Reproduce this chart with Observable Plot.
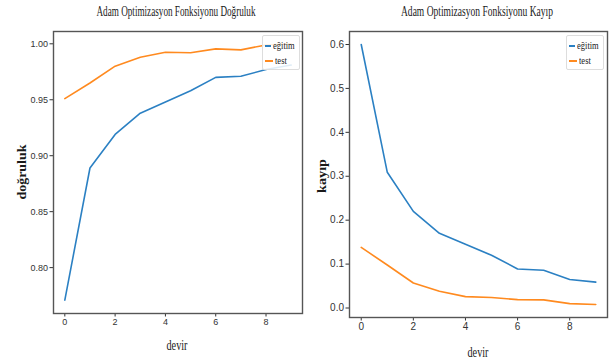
<!DOCTYPE html>
<html><head><meta charset="utf-8">
<script src="https://cdn.jsdelivr.net/npm/d3@7"></script>
<script src="https://cdn.jsdelivr.net/npm/@observablehq/plot@0.6"></script>
<style>
html,body{margin:0;padding:0;background:#fff;}
#root{position:relative;width:614px;height:363px;background:#fff;overflow:hidden;}
.t{position:absolute;white-space:nowrap;line-height:1;color:#1a1a1a;}
.leg{position:absolute;background:rgba(255,255,255,0.85);border:1px solid #ddd;border-radius:2px;box-sizing:border-box;font-family:"Liberation Serif",serif;font-size:10px;color:#222;}
.row{display:flex;align-items:center;height:15px;}
.sw{display:inline-block;width:8px;height:0;border-top:2px solid;margin:0 2px 0 2px;}
.lab{display:inline-block;transform:scaleX(0.85);transform-origin:left center;}
</style>
</head><body>
<div id="root"></div>
<script>
// ---- data ----
const epochs = [0, 1, 2, 3, 4, 5, 6, 7, 8, 9];
const seriesNames = ["eğitim", "test"];
const accTrain = [0.771, 0.889, 0.919, 0.938, 0.948, 0.958, 0.970, 0.971, 0.977, 0.981];
const accTest  = [0.951, 0.965, 0.980, 0.988, 0.9925, 0.992, 0.9955, 0.9946, 0.999, 1.000];
const lossTrain = [0.600, 0.309, 0.220, 0.170, 0.145, 0.120, 0.089, 0.086, 0.065, 0.059];
const lossTest  = [0.138, 0.098, 0.057, 0.038, 0.026, 0.024, 0.019, 0.0185, 0.010, 0.008];
const xTicks = [0, 2, 4, 6, 8];
const accTicks = [0.80, 0.85, 0.90, 0.95, 1.00];
const lossTicks = [0.0, 0.1, 0.2, 0.3, 0.4, 0.5, 0.6];
const titles = ["Adam Optimizasyon Fonksiyonu Doğruluk", "Adam Optimizasyon Fonksiyonu Kayıp"];
const xLabel = "devir";
const yLabels = ["doğruluk", "kayıp"];
const colors = ["#2b80c3", "#ff8a1f"];

const root = document.getElementById("root");

function toRows(a, b) {
  return epochs.flatMap((e, i) => [
    {epoch: e, value: a[i], series: seriesNames[0]},
    {epoch: e, value: b[i], series: seriesNames[1]}
  ]);
}

function makePlot(rows, cfg) {
  const svg = Plot.plot({
    width: cfg.width, height: 363,
    marginLeft: cfg.ml, marginRight: cfg.mr, marginTop: cfg.mt, marginBottom: cfg.mb,
    style: {fontFamily: '"Liberation Sans Narrow","Liberation Sans",sans-serif', fontSize: cfg.fs, color: "#333", background: "transparent", overflow: "visible"},
    x: {domain: [-0.45, 9.45], ticks: xTicks, tickFormat: d => String(d), tickSize: 3.5, tickPadding: 2, label: null},
    y: {domain: cfg.ydom, ticks: cfg.yticks, tickFormat: cfg.yfmt, tickSize: 3.5, tickPadding: 2, label: null},
    color: {domain: seriesNames, range: colors},
    marks: [
      Plot.line(rows, {x: "epoch", y: "value", stroke: "series", strokeWidth: 1.6, curve: "linear"}),
      Plot.frame({stroke: "#555", strokeWidth: 1.4})
    ]
  });
  svg.style.position = "absolute";
  svg.style.left = cfg.left + "px";
  svg.style.top = "0px";
  root.appendChild(svg);
}

makePlot(toRows(accTrain, accTest), {
  left: 0, width: 304, ml: 53, mr: 2, mt: 31, mb: 50, fs: "9px",
  ydom: [0.759, 1.011], yticks: accTicks, yfmt: d3.format(".2f")
});
makePlot(toRows(lossTrain, lossTest), {
  left: 304, width: 310, ml: 45, mr: 7, mt: 31, mb: 46, fs: "10px",
  ydom: [-0.0216, 0.6296], yticks: lossTicks, yfmt: d3.format(".1f")
});

function addText(txt, cx, cy, opt) {
  const el = document.createElement("div");
  el.className = "t";
  el.textContent = txt;
  el.style.fontFamily = '"Liberation Serif",serif';
  el.style.fontSize = opt.fs + "px";
  if (opt.bold) el.style.fontWeight = "bold";
  root.appendChild(el);
  const w = el.getBoundingClientRect().width;
  const s = opt.w ? opt.w / w : 1;
  el.style.left = cx + "px";
  el.style.top = cy + "px";
  el.style.transformOrigin = "0 0";
  el.style.transform = `rotate(${opt.rot || 0}deg) scaleX(${s}) translate(-50%,-50%)`;
}

addText(titles[0], 176, 12, {fs: 14, w: 159});
addText(titles[1], 477, 12, {fs: 14, w: 152});
addText(xLabel, 177, 346, {fs: 14, w: 21});
addText(xLabel, 478, 353, {fs: 14, w: 21});
addText(yLabels[0], 21, 172, {fs: 13, w: 55, bold: true, rot: -90});
addText(yLabels[1], 321, 176, {fs: 13, w: 34, bold: true, rot: -90});

function addLegend(x, y, w, h) {
  const lg = document.createElement("div");
  lg.className = "leg";
  lg.style.left = x + "px"; lg.style.top = y + "px";
  lg.style.width = w + "px"; lg.style.height = h + "px";
  lg.style.paddingTop = "2px";
  seriesNames.forEach((n, i) => {
    const r = document.createElement("div");
    r.className = "row";
    const sw = document.createElement("span");
    sw.className = "sw"; sw.style.borderTopColor = colors[i];
    const lb = document.createElement("span");
    lb.className = "lab"; lb.textContent = n;
    r.appendChild(sw); r.appendChild(lb);
    lg.appendChild(r);
  });
  root.appendChild(lg);
}
addLegend(262, 35, 38, 35);
addLegend(566, 35, 38, 35);
</script>
</body></html>
